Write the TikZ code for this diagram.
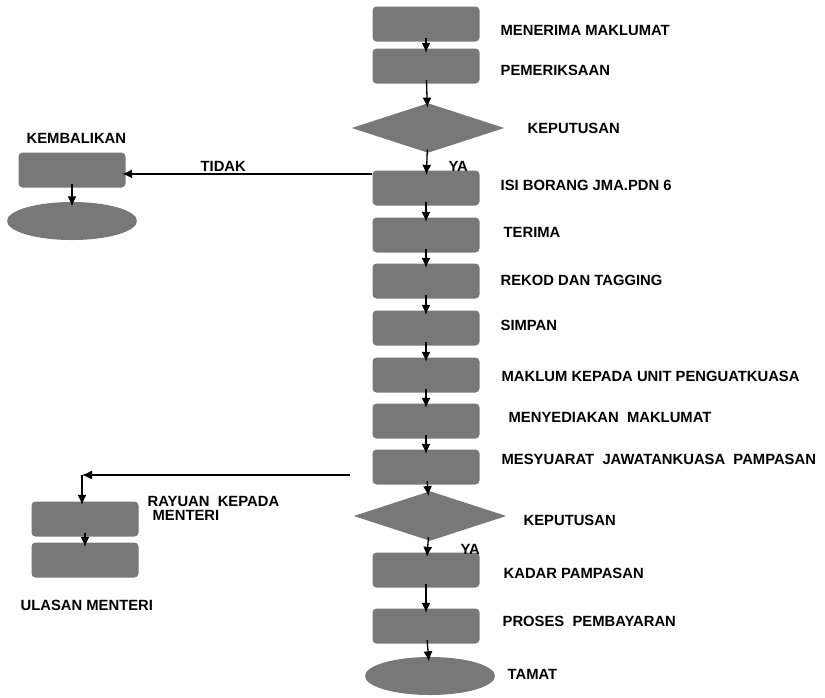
\documentclass[tikz,border=0pt]{standalone}
\usepackage{fontspec}
\setsansfont{Liberation Sans}
\usepackage{tikz}
\usetikzlibrary{arrows.meta}
\usetikzlibrary{calc,positioning,shapes.geometric}
\definecolor{shade1}{RGB}{120,120,120}
\tikzset{%
  >={Latex[width=9pt,length=10pt]},
  % Specifications for style of nodes:
  base/.style = {rectangle, rounded corners=4pt, fill=shade1,
    minimum width=107pt,
    minimum height=35pt,
    inner sep=0pt},
  decision/.style = {diamond, fill=shade1, inner sep=0pt,
    minimum width=153pt, minimum height=50pt},
  stopper/.style = {ellipse, fill=shade1, inner sep=0pt,
    minimum width=130pt, minimum height=38pt},
  caption/.style = {anchor=west, inner sep=0pt,
    font=\sffamily\bfseries\fontsize{14.8}{14}\selectfont},
  flow/.style = {->, shorten >=-5pt, shorten <=-4pt},
}

\begin{document}
\begin{tikzpicture}[x=1pt, y=-1pt, line width=1.3pt]
        \useasboundingbox (0,0) rectangle (825,697);
        % Specification of nodes (position, etc.)
        \node(Maklumat)[base] at (426,24) {};
        \node(Periksa)[base] at (426,66) {};
        \node(PutusA)[decision] at (428,128) {};
        \node(Borang)[base] at (426,188) {};
        \node(Terima)[base] at (426,235) {};
        \node(Rekod)[base] at (426,281) {};
        \node(Simpan)[base] at (426,328) {};
        \node(Unit)[base] at (426,375) {};
        \node(Sedia)[base] at (426,421) {};
        \node(Mesyuarat)[base] at (426,467) {};
        \node(PutusB)[decision] at (430,516) {};
        \node(Kadar)[base] at (426,570) {};
        \node(Bayar)[base] at (426,626) {};
        \node(Tamat)[stopper] at (430,676) {};
        % left branches
        \node(Balik)[base] at (72,170) {};
        \node(BalikEnd)[stopper] at (72,221) {};
        \node(Rayuan)[base] at (85,519) {};
        \node(Ulasan)[base] at (85,560) {};
        % texts
        \node(lMaklumat)[caption] at (500,30) {MENERIMA MAKLUMAT};
        \node(lPeriksa)[caption] at (500,70) {PEMERIKSAAN};
        \node(lPutusA)[caption] at (527,128) {KEPUTUSAN};
        \node(lBorang)[caption] at (500,185) {ISI BORANG JMA.PDN 6};
        \node(lTerima)[caption] at (503,232) {TERIMA};
        \node(lRekod)[caption] at (500,280) {REKOD DAN TAGGING};
        \node(lSimpan)[caption] at (500,325) {SIMPAN};
        \node(lUnit)[caption] at (501,376) {MAKLUM KEPADA UNIT PENGUATKUASA};
        \node(lSedia)[caption] at (508,417) {MENYEDIAKAN\ \ MAKLUMAT};
        \node(lMesyuarat)[caption] at (501,459) {MESYUARAT\ \ JAWATANKUASA\ \ PAMPASAN};
        \node(lPutusB)[caption] at (523,520) {KEPUTUSAN};
        \node(lKadar)[caption] at (503,573) {KADAR PAMPASAN};
        \node(lBayar)[caption] at (502,621) {PROSES\ \ PEMBAYARAN};
        \node(lTamat)[caption] at (507,674) {TAMAT};
        \node(lYaA)[caption] at (448,166) {YA};
        \node(lYaB)[caption] at (460,549) {YA};
        \node(lTidak)[caption] at (200,166) {TIDAK};
        \node(lBalik)[caption] at (26,138) {KEMBALIKAN};
        \node(lRayuan)[caption, anchor=north west, align=left] at (147,496)
          {RAYUAN\ \ KEPADA\\\hspace*{5pt}MENTERI};
        \node(lUlasan)[caption] at (20,605) {ULASAN MENTERI};
        % connectors
        \draw[flow](Maklumat) -- (Periksa);
        \draw[flow](Periksa) -- (PutusA);
        \draw[flow](PutusA) -- (Borang);
        \draw[flow](Borang) -- (Terima);
        \draw[flow](Terima) -- (Rekod);
        \draw[flow](Rekod) -- (Simpan);
        \draw[flow](Simpan) -- (Unit);
        \draw[flow](Unit) -- (Sedia);
        \draw[flow](Sedia) -- (Mesyuarat);
        \draw[flow](Mesyuarat) -- (PutusB);
        \draw[flow](PutusB) -- (Kadar);
        \draw[flow](Kadar) -- (Bayar);
        \draw[flow](Bayar) -- (Tamat);
        \coordinate(TidakStart) at ([yshift=-4pt]Borang.north west);
        \draw[->, shorten >=-4pt](TidakStart) -- (Balik.east |- TidakStart);
        \draw[flow](Balik) -- (BalikEnd);
        \coordinate(RayuanStart) at (350,475);
        \coordinate(RayuanCorner) at ([xshift=-3pt]Rayuan.north |- RayuanStart);
        \draw[->](RayuanStart) -- (RayuanCorner);
        \draw[->, shorten >=-4pt](RayuanCorner) -- ([xshift=-3pt]Rayuan.north);
        \draw[flow](Rayuan) -- (Ulasan);
    \end{tikzpicture}
\end{document}
